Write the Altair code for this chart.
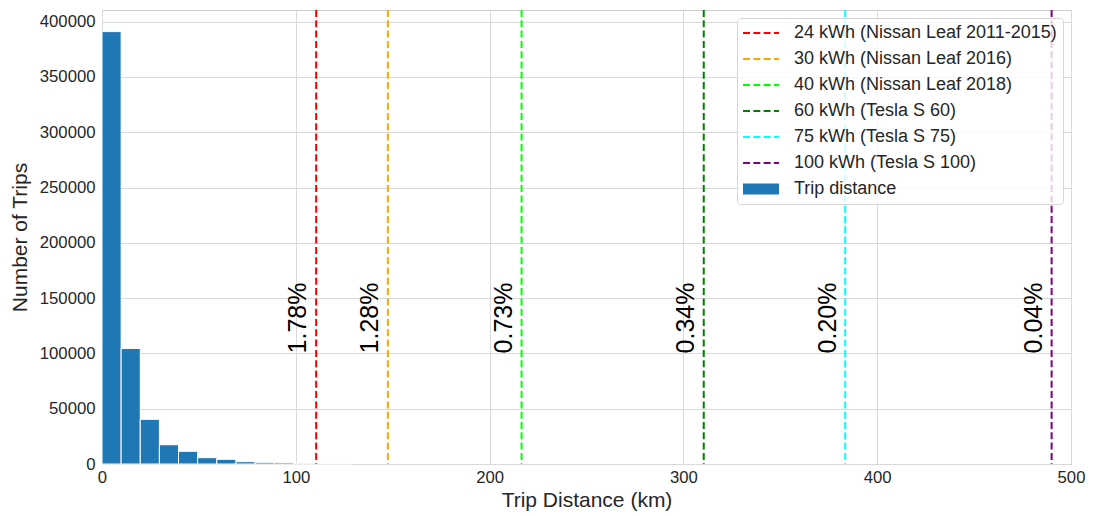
import altair as alt
import pandas as pd

# Histogram of trip distances (10 km-ish bins) -------------------------------
BIN_WIDTH = 9.87
bin_start = [i * BIN_WIDTH for i in range(13)]
trip_counts = [391000, 104500, 40400, 17400, 11500, 5700, 4200, 2100, 1500,
               1200, 600, 500, 400]

# Battery ranges and share of trips longer than each range ---------------------
battery_labels = [
    "24 kWh (Nissan Leaf 2011-2015)",
    "30 kWh (Nissan Leaf 2016)",
    "40 kWh (Nissan Leaf 2018)",
    "60 kWh (Tesla S 60)",
    "75 kWh (Tesla S 75)",
    "100 kWh (Tesla S 100)",
]
battery_range_km = [110.5, 147.5, 216.5, 310.5, 383.5, 490.0]
battery_colors = ["#ff0000", "#ffa500", "#00ff00", "#008000", "#00ffff", "#800080"]
share_longer = ["1.78%", "1.28%", "0.73%", "0.34%", "0.20%", "0.04%"]

HIST_LABEL = "Trip distance"
HIST_COLOR = "#1f77b4"

# One legend for everything: dashed thin lines for the batteries,
# a thick solid stroke (a filled patch) for the histogram.
series_domain = battery_labels + [HIST_LABEL]
series_colors = battery_colors + [HIST_COLOR]
series_dash = [[7, 3.3]] * len(battery_labels) + [[40, 0]]
series_width = [2] * len(battery_labels) + [11]

hist_df = pd.DataFrame({
    "start": bin_start,
    "end": [s + BIN_WIDTH for s in bin_start],
    "count": trip_counts,
})
lines_df = pd.DataFrame({
    "km": battery_range_km,
    "series": battery_labels,
    "share": share_longer,
    "label_km": [k - 5 for k in battery_range_km],
    "label_y": 100000,
})

TEXT = "#262626"
FONT = "Liberation Sans"

x_scale = alt.Scale(domain=[0, 500], nice=False, zero=False)
y_scale = alt.Scale(domain=[0, 410550], nice=False)

legend = alt.Legend(
    title=None,
    orient="top-right",
    offset=8,
    fillColor="rgba(255,255,255,0.8)",
    strokeColor="#d6d6d6",
    cornerRadius=3,
    padding=6,
    labelFont=FONT,
    labelFontSize=18,
    labelColor=TEXT,
    labelLimit=500,
    labelOffset=24,
    symbolOffset=9,
    symbolSize=49,
    symbolType="M-5.14,0H5.14",
    symbolOpacity=1,
    rowPadding=8,
    symbolLimit=0,
)

bars = alt.Chart(hist_df).mark_bar(color=HIST_COLOR, stroke="white", strokeWidth=1).encode(
    x=alt.X(
        "start:Q",
        scale=x_scale,
        axis=alt.Axis(values=[0, 100, 200, 300, 400, 500], title="Trip Distance (km)"),
    ),
    x2="end:Q",
    y=alt.Y(
        "count:Q",
        scale=y_scale,
        axis=alt.Axis(values=list(range(0, 400001, 50000)), format="d", title="Number of Trips"),
    ),
    y2=alt.datum(0),
)

rules = alt.Chart(lines_df).mark_rule(strokeJoin="bevel", strokeCap="butt").encode(
    x=alt.X("km:Q", scale=x_scale),
    stroke=alt.Stroke("series:N", scale=alt.Scale(domain=series_domain, range=series_colors), legend=legend),
    strokeDash=alt.StrokeDash("series:N", scale=alt.Scale(domain=series_domain, range=series_dash), legend=legend),
    strokeWidth=alt.StrokeWidth(
        "series:N",
        scale=alt.Scale(type="ordinal", domain=series_domain, range=series_width),
        legend=legend,
    ),
)

labels = alt.Chart(lines_df).mark_text(
    angle=270, align="left", baseline="alphabetic", fontSize=25, font=FONT, color="black"
).encode(
    x=alt.X("label_km:Q", scale=x_scale),
    y=alt.Y("label_y:Q", scale=y_scale),
    text="share:N",
)

chart = (
    alt.layer(bars, rules, labels)
    .properties(
        width=969,
        height=454,
        autosize="none",
        padding={"left": 102, "top": 10, "right": 25, "bottom": 52},
    )
    .configure(font=FONT, background="white")
    .configure_view(stroke="#cccccc", strokeWidth=1)
    .configure_mark(strokeJoin="bevel")
    .configure_axis(
        domain=False,
        ticks=False,
        grid=True,
        gridColor="#d9d9d9",
        gridWidth=1,
        labelFlush=False,
        labelFont=FONT,
        labelFontSize=16.7,
        labelColor=TEXT,
        titleFont=FONT,
        titleFontSize=21,
        titleFontWeight="normal",
        titleColor=TEXT,
    )
    .configure_axisX(labelPadding=5, titlePadding=4)
    .configure_axisY(labelPadding=7, titlePadding=9)
)

chart.save("out.html", embed_options={"renderer": "svg", "actions": False})
